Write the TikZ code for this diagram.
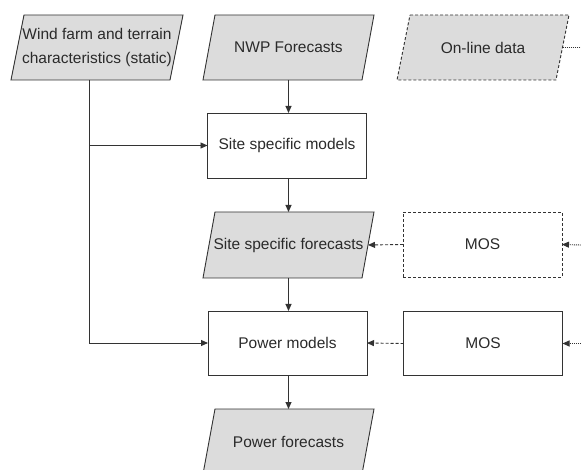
\documentclass[tikz,border=0pt]{standalone}
\usepackage{fontspec}
\setmainfont{Liberation Sans}
\usetikzlibrary{arrows.meta,backgrounds,calc}
\definecolor{ln}{HTML}{333333}
\definecolor{fl}{HTML}{DCDCDC}
\definecolor{tx}{HTML}{2A2A2A}
\tikzset{
  box/.style={rectangle,draw=ln,line width=0.9pt,minimum width=159pt,minimum height=65pt,inner sep=0pt,outer sep=0pt,text=tx,font=\fontsize{15.5}{24}\selectfont,align=center},
  dbox/.style={box,dash pattern=on 3pt off 2pt},
  para/.style={box,draw=none},
  pshape/.style={draw=ln,fill=fl,line width=0.9pt},
  dpshape/.style={pshape,dash pattern=on 3pt off 2pt},
  arr/.style={draw=ln,line width=0.9pt,-{Triangle[length=7pt,width=6pt]}},
  darr/.style={arr,dash pattern=on 3pt off 2pt},
  dotarr/.style={arr,dash pattern=on 1pt off 1pt},
  dotline/.style={draw=ln,line width=0.9pt,dash pattern=on 1pt off 1pt},
  ln/.style={draw=ln,line width=0.9pt}
}
\begin{document}
\begin{tikzpicture}[x=1pt,y=-1pt]
\useasboundingbox (0,0) rectangle (581,470);
\node[para] (wf) at (97,47.5) {Wind farm and terrain\\characteristics (static)};
\node[para] (nwp) at (288.5,47.5) {NWP Forecasts};
\node[para] (old) at (483,47.5) {On-line data};
\node[box] (ssm) at (287,145.5) {Site specific models};
\node[para,minimum height=66pt] (sff) at (288.5,245) {Site specific forecasts};
\node[dbox] (mos1) at (482.5,244.5) {MOS};
\node[box,minimum height=64pt] (pm) at (287.5,343) {Power models};
\node[box,minimum height=64pt] (mos2) at (483,343.5) {MOS};
\node[para] (pf) at (288.5,441.5) {Power forecasts};
\begin{scope}[on background layer]
\foreach \n/\s in {wf/6.5,nwp/6,sff/6,pf/6}{
  \draw[pshape] ([xshift=\s pt]\n.north west) -- ([xshift=\s pt]\n.north east) -- ([xshift=-\s pt]\n.south east) -- ([xshift=-\s pt]\n.south west) -- cycle;
}
\draw[dpshape] ([xshift=6.5pt]old.north west) -- ([xshift=6.5pt]old.north east) -- ([xshift=-6.5pt]old.south east) -- ([xshift=-6.5pt]old.south west) -- cycle;
\end{scope}
\coordinate (j1) at (89,145.5);
\coordinate (j2) at (89,343);
\coordinate (r0) at (581,47.5);
\coordinate (r1) at (581,245);
\coordinate (r2) at (581,343.5);
\draw[arr] (nwp.south) -- (nwp.south |- ssm.north);
\draw[arr] (nwp.south |- ssm.south) -- (nwp.south |- sff.north);
\draw[arr] (sff.south) -- (sff.south |- pm.north);
\draw[arr] (sff.south |- pm.south) -- (pf.north);
\draw[ln] (wf.south -| j1) -- (j2);
\draw[arr] (j1) -- (ssm.west);
\draw[arr] (j2) -- (pm.west);
\draw[darr] (mos1.west) -- (sff.east);
\draw[darr] (mos2.west) -- (pm.east);
\draw[dotarr] (r1) -- (mos1.east);
\draw[dotarr] (r2) -- (mos2.east);
\draw[dotline] (old.east) -- (r0);
\end{tikzpicture}
\end{document}
